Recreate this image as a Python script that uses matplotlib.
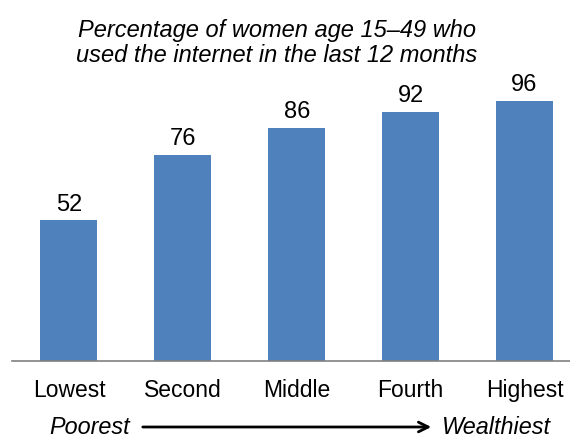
import matplotlib
matplotlib.use("Agg")
import matplotlib.pyplot as plt

categories = ["Lowest", "Second", "Middle", "Fourth", "Highest"]
values = [52, 76, 86, 92, 96]
title = "Percentage of women age 15\u201349 who\nused the internet in the last 12 months"

plt.rcParams['font.family'] = ['Liberation Sans', 'DejaVu Sans']

fig = plt.figure(figsize=(5.70, 4.39), dpi=100)
ax = fig.add_axes([12/570, 77/439, 558/570, 271/439])
x = list(range(len(categories)))
ax.bar(x, values, width=0.5, color="#4F81BD")
ax.set_xlim(-0.5, 4.4)
ax.set_ylim(0, 100)
for xi, v in zip(x, values):
    ax.annotate(str(v), (xi, v), xytext=(0, 4), textcoords="offset points",
                ha="center", va="bottom", fontsize=17, annotation_clip=False)
for s in ["top", "right", "left"]:
    ax.spines[s].set_visible(False)
ax.spines["bottom"].set_color("#808080")
ax.spines["bottom"].set_linewidth(1.2)
ax.set_yticks([])
ax.set_xticks(x)
ax.set_xticklabels(categories, fontsize=16.5)
ax.tick_params(axis="x", length=0, pad=12)

fig.text(277/570, 1 - 43/439, title, ha="center", va="center", fontsize=17,
         style="italic", linespacing=1.07)

fig.text(49/570, 1 - 428/439, "Poorest", ha="left", va="center", fontsize=16.8, style="italic")
fig.text(442/570, 1 - 428/439, "Wealthiest", ha="left", va="center", fontsize=16.8, style="italic")
fig.add_artist(matplotlib.patches.FancyArrowPatch(
    (140/570, 1 - 428/439), (434/570, 1 - 428/439), transform=fig.transFigure,
    arrowstyle="->,head_length=7,head_width=3.5", lw=2.0, color="black", mutation_scale=1))

fig.savefig("out.png", dpi=100)
